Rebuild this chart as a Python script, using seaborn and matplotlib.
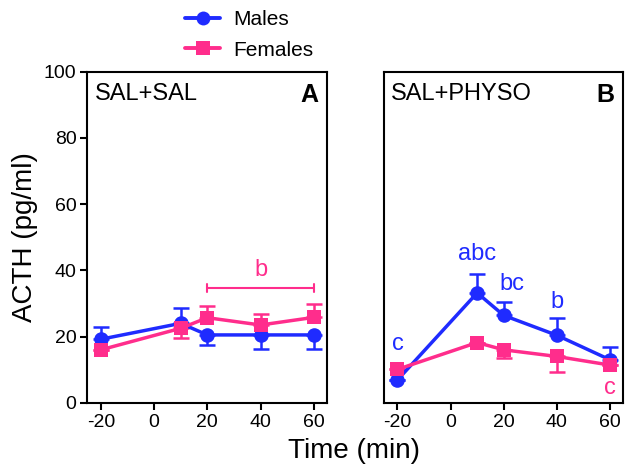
import numpy as np
import pandas as pd
import matplotlib
matplotlib.use("Agg")
import matplotlib.pyplot as plt
import seaborn as sns
from matplotlib.lines import Line2D

# time points (min)
time = [-20, 10, 20, 40, 60]

# panel A: SAL+SAL
a_males = [19.2, 24.0, 20.5, 20.5, 20.5]
a_males_lo = [0, 0, 3.0, 4.1, 4.1]
a_males_hi = [3.8, 4.5, 0, 0, 0]
a_females = [16.0, 22.5, 25.7, 23.5, 25.8]
a_females_lo = [0, 3.0, 0, 0, 0]
a_females_hi = [0, 0, 3.6, 3.4, 4.0]

# panel B: SAL+PHYSO
b_males = [6.9, 33.2, 26.4, 20.4, 13.0]
b_males_lo = [0, 0, 0, 0, 0]
b_males_hi = [0, 5.8, 4.1, 5.1, 3.8]
b_females = [10.1, 18.2, 16.0, 14.0, 11.4]
b_females_lo = [0, 0, 2.5, 4.8, 0]
b_females_hi = [0, 0, 0, 0, 0]

BLUE = "#1f2bff"
PINK = "#ff2d8c"

sns.set_style("ticks")
plt.rcParams["font.family"] = ["Liberation Sans", "DejaVu Sans"]
plt.rcParams["axes.unicode_minus"] = False
plt.rcParams["text.color"] = "black"
plt.rcParams["axes.labelcolor"] = "black"

fig = plt.figure(figsize=(6.34, 4.75), dpi=100)
ax_a = fig.add_axes([0.138, 0.152, 0.378, 0.697])
ax_b = fig.add_axes([0.606, 0.152, 0.377, 0.697])


def draw_panel(ax, males, m_lo, m_hi, females, f_lo, f_hi):
    df = pd.DataFrame({
        "time": time * 2,
        "acth": males + females,
        "sex": ["Males"] * len(time) + ["Females"] * len(time),
    })
    # error bars first so markers sit on top
    ax.errorbar(time, males, yerr=[m_lo, m_hi], fmt="none", ecolor=BLUE,
                elinewidth=1.8, capsize=6, capthick=1.8, zorder=2)
    ax.errorbar(time, females, yerr=[f_lo, f_hi], fmt="none", ecolor=PINK,
                elinewidth=1.8, capsize=6, capthick=1.8, zorder=2)
    sns.lineplot(data=df, x="time", y="acth", hue="sex", style="sex",
                 hue_order=["Males", "Females"],
                 palette={"Males": BLUE, "Females": PINK},
                 markers={"Males": "o", "Females": "s"}, dashes=False,
                 markersize=10.5, markeredgewidth=0, linewidth=2.5,
                 legend=False, ax=ax, zorder=3)
    ax.set_xlim(-25, 65)
    ax.set_ylim(0, 100)
    ax.set_xticks([-20, 0, 20, 40, 60])
    ax.set_xlabel("")
    ax.set_ylabel("")
    for s in ax.spines.values():
        s.set_visible(True)
        s.set_linewidth(1.5)
        s.set_color("black")
    ax.tick_params(axis="both", width=1.5, length=5, labelsize=14,
                   colors="black", pad=3)


draw_panel(ax_a, a_males, a_males_lo, a_males_hi,
           a_females, a_females_lo, a_females_hi)
draw_panel(ax_b, b_males, b_males_lo, b_males_hi,
           b_females, b_females_lo, b_females_hi)

ax_a.set_yticks(range(0, 101, 20))
ax_b.set_yticks([])

ax_a.set_ylabel("ACTH (pg/ml)", fontsize=20, labelpad=4)
fig.text(0.558, 0.05, "Time (min)", fontsize=20, ha="center",
         va="center")

# panel titles
ax_a.text(0.03, 0.965, "SAL+SAL", transform=ax_a.transAxes, fontsize=17,
          va="top", ha="left")
ax_a.text(0.965, 0.965, "A", transform=ax_a.transAxes, fontsize=18,
          fontweight="bold", va="top", ha="right")
ax_b.text(0.03, 0.965, "SAL+PHYSO", transform=ax_b.transAxes, fontsize=17,
          va="top", ha="left")
ax_b.text(0.965, 0.965, "B", transform=ax_b.transAxes, fontsize=18,
          fontweight="bold", va="top", ha="right")

# significance bracket in panel A
ax_a.plot([20, 60], [34.8, 34.8], color=PINK, lw=1.5)
ax_a.plot([20, 20], [33.6, 36.0], color=PINK, lw=1.5)
ax_a.plot([60, 60], [33.6, 36.0], color=PINK, lw=1.5)
ax_a.text(40, 40, "b", color=PINK, fontsize=17, ha="center", va="center")

# letters in panel B
ax_b.text(-20, 17.8, "c", color=BLUE, fontsize=17, ha="center", va="center")
ax_b.text(10, 45, "abc", color=BLUE, fontsize=17, ha="center", va="center")
ax_b.text(23, 35.8, "bc", color=BLUE, fontsize=17, ha="center", va="center")
ax_b.text(40, 30.5, "b", color=BLUE, fontsize=17, ha="center", va="center")
ax_b.text(60, 4.5, "c", color=PINK, fontsize=17, ha="center", va="center")

handles = [
    Line2D([], [], color=BLUE, marker="o", markersize=10, lw=2.8,
           markeredgewidth=0),
    Line2D([], [], color=PINK, marker="s", markersize=10, lw=2.8,
           markeredgewidth=0),
]
fig.legend(handles, ["Males", "Females"], loc="upper left",
           bbox_to_anchor=(0.262, 1.018), frameon=False, fontsize=15,
           handlelength=1.7, handletextpad=0.6, labelspacing=0.55)

fig.savefig("out.png", dpi=100)
